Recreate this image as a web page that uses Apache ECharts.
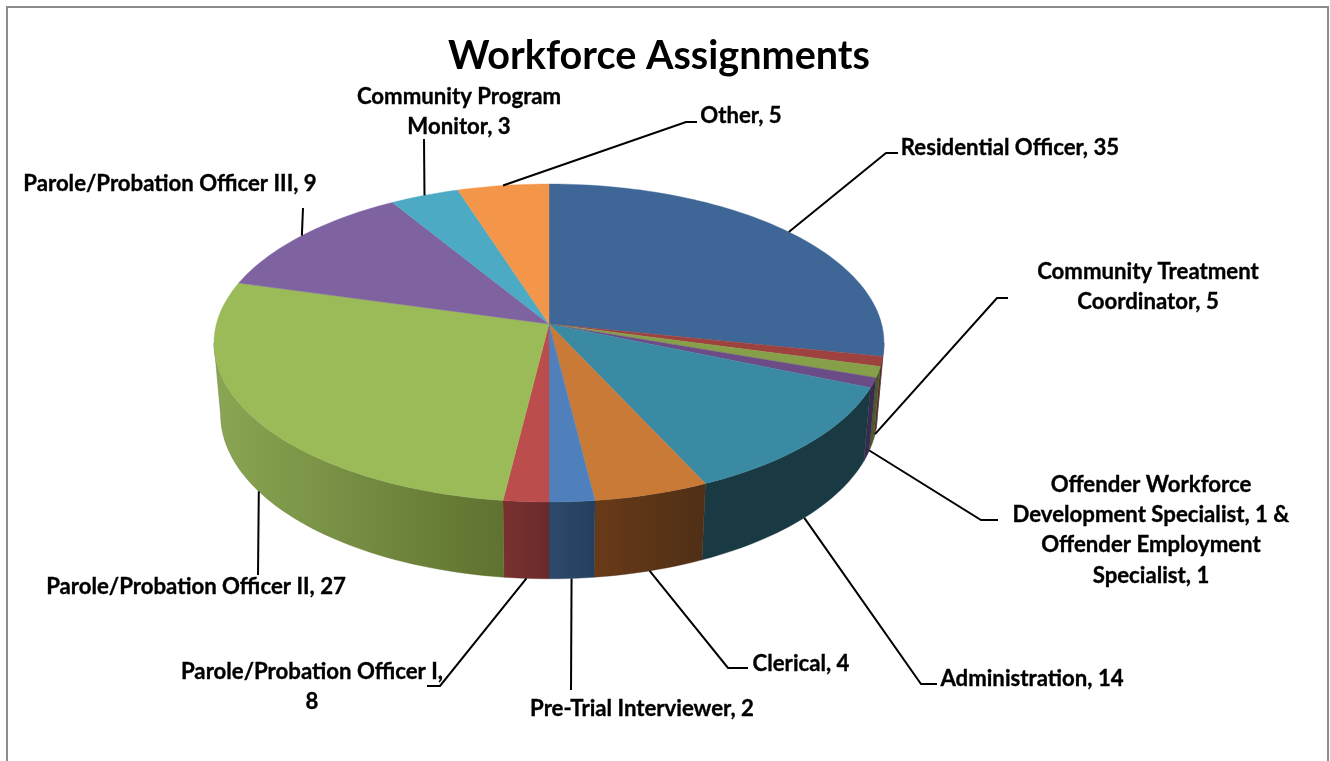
<!DOCTYPE html>
<html><head><meta charset="utf-8">
<style>html,body{margin:0;padding:0;background:#fff}#c{width:1330px;height:761px}</style>
<script src="https://cdn.jsdelivr.net/npm/echarts@6/dist/echarts.min.js"></script>
</head><body><div id="c"></div>
<script>
// ---- data ----
const categories = ['Residential Officer','Community Treatment Coordinator','Offender Workforce Development Specialist','Offender Employment Specialist','Administration','Clerical','Pre-Trial Interviewer','Parole/Probation Officer I','Parole/Probation Officer II','Parole/Probation Officer III','Community Program Monitor','Other'];
const labelledValues = [35,5,1,1,14,4,2,8,27,9,3,5];
// drawn slice sizes (percent of the disc), measured on the picture; they differ from the printed labels
const sliceShares = [28.3,1.0,1.1,1.0,11.8,4.95,1.95,1.95,27.45,12.0,3.75,4.95];

// ---- styles ----
const faceColors = ['#3e6797','#9e4240','#86a04a','#6c4c86','#3b8aa3','#c87a36','#4f80bb','#bb4e4d','#9bbb59','#7f62a0','#4caac5','#f4964a'];
const wallLeft   = ['#2d4a6e','#5e2626','#4a5a28','#3a2a50','#193a42','#693a18','#2e4a6b','#7a3130','#8aa653','#4a3660','#2c6474','#8f5828'];
const wallRight  = ['#2d4a6e','#5e2626','#4a5a28','#3a2a50','#193a42','#4f2f16','#243f5e','#6a2a2a','#5f7230','#4a3660','#2c6474','#8f5828'];

// ---- label layout ----
const labelTexts = [
  ['Residential Officer, 35'],
  ['Community Treatment','Coordinator, 5'],
  ['Offender Workforce','Development Specialist, 1 &','Offender Employment','Specialist, 1'],
  ['Administration, 14'],['Clerical, 4'],['Pre-Trial Interviewer, 2'],
  ['Parole/Probation Officer I,','8'],['Parole/Probation Officer II, 27'],['Parole/Probation Officer III, 9'],
  ['Community Program','Monitor, 3'],['Other, 5']];
const labelSlices = [[0],[1],[2,3],[4],[5],[6],[7],[8],[9],[10],[11]];
const labelCentres = [[1010,148],[1148,287],[1151,530],[1032,679],[801,664],[642,709],[312,687],[196,587],[170,184],[459,112],[741,116]];
const labelElbows = [[[886,153],[898,153]],[[997,298],[1008,298]],[[981,520],[998,520]],[[921,684],[937,684]],[[728,668],[748,668]],[[571,690]],[[440,686],[427,686]],[[258,575]],[[303,208]],[[424,139]],[[686,122],[697,122]]];
const FONT = 'Lato, "Open Sans", sans-serif';

// ---- perspective of the disc ----
const VIEW = {cx:549, A:332.6, a:118, b:324, c:-0.1195, d:0.02, e:79.2};
function project(deg, h){
  const t = deg*Math.PI/180, u = Math.sin(t), v = -Math.cos(t);
  const w = 1 + VIEW.c*v + VIEW.d*h;
  return [VIEW.cx + VIEW.A*u/w, (VIEW.a*v + VIEW.b + VIEW.e*h)/w];
}
// the disc's outline turns from top rim to wall where cos(angle) = c
const SILHOUETTE = Math.acos(VIEW.c)*180/Math.PI;
const total = sliceShares.reduce((s,x)=>s+x,0);
const starts = []; { let acc=0; sliceShares.forEach(s=>{starts.push(acc/total*360); acc+=s;}); }
const ends = starts.map((s,i)=>s+sliceShares[i]/total*360);
function arc(a0,a1,h){
  const n = Math.max(2,Math.ceil((a1-a0)/1.5)), out=[];
  for(let i=0;i<=n;i++) out.push(project(a0+(a1-a0)*i/n,h));
  return out;
}
function renderWall(params, api){
  const i = params.dataIndex, a0 = Math.max(starts[i],SILHOUETTE), a1 = Math.min(ends[i],360-SILHOUETTE);
  if(!(api.value(1)>0) || a1<=a0) return {type:'group',children:[]};
  const pts = arc(a0,a1,0).concat(arc(a0,a1,1).reverse());
  const fill = new echarts.graphic.LinearGradient(0,0,1,0,[{offset:0,color:wallLeft[i]},{offset:1,color:wallRight[i]}]);
  return {type:'polygon',shape:{points:pts},style:{fill:fill,stroke:wallRight[i],lineWidth:0.4}};
}
function renderFace(params, api){
  const i = params.dataIndex;
  if(!(api.value(1)>0)) return {type:'group',children:[]};
  const pts = [[VIEW.cx, VIEW.b]];
  return {type:'polygon',shape:{points:pts.concat(arc(starts[i],ends[i],0))},style:{fill:faceColors[i],stroke:faceColors[i],lineWidth:0.4}};
}
function renderLabel(params){
  const i = params.dataIndex, sl = labelSlices[i];
  const mid = sl.reduce((s,k)=>s+(starts[k]+ends[k])/2,0)/sl.length;
  const front = mid>92 && mid<268;
  const pts = [project(mid, front?1:0)].concat(labelElbows[i]);
  return {type:'group',children:[
    {type:'polyline',shape:{points:pts},style:{fill:null,stroke:'#000',lineWidth:2}},
    {type:'text',style:{text:labelTexts[i].join('\n'),x:labelCentres[i][0],y:labelCentres[i][1],align:'center',verticalAlign:'middle',
      font:'bold 22.2px '+FONT,lineHeight:30.4,fill:'#000',stroke:'#000',lineWidth:0.35}}
  ]};
}
const sliceData = categories.map((n,i)=>({name:n,value:[sliceShares[i],labelledValues[i]]}));
const chart = echarts.init(document.getElementById('c'),null,{renderer:'canvas'});
chart.setOption({
  animation:false,
  backgroundColor:'#fff',
  title:{text:'Workforce Assignments',left:654,top:31,textAlign:'center',textStyle:{fontFamily:FONT,fontWeight:'bold',fontSize:39.6,color:'#000'}},
  graphic:[{type:'polyline',silent:true,shape:{points:[[7,761],[7,7],[1328,7],[1328,761]]},style:{fill:null,stroke:'#8c8c8c',lineWidth:2}}],
  series:[
    {type:'custom',name:'walls',coordinateSystem:'none',silent:true,z:1,renderItem:renderWall,data:sliceData,encode:{value:0}},
    {type:'custom',name:'faces',coordinateSystem:'none',silent:true,z:2,renderItem:renderFace,data:sliceData,encode:{value:0}},
    {type:'custom',name:'labels',coordinateSystem:'none',silent:true,z:3,renderItem:renderLabel,data:labelTexts.map((t,i)=>({name:t.join(' '),value:[i]})),encode:{value:0}}
  ]
});
</script></body></html>
